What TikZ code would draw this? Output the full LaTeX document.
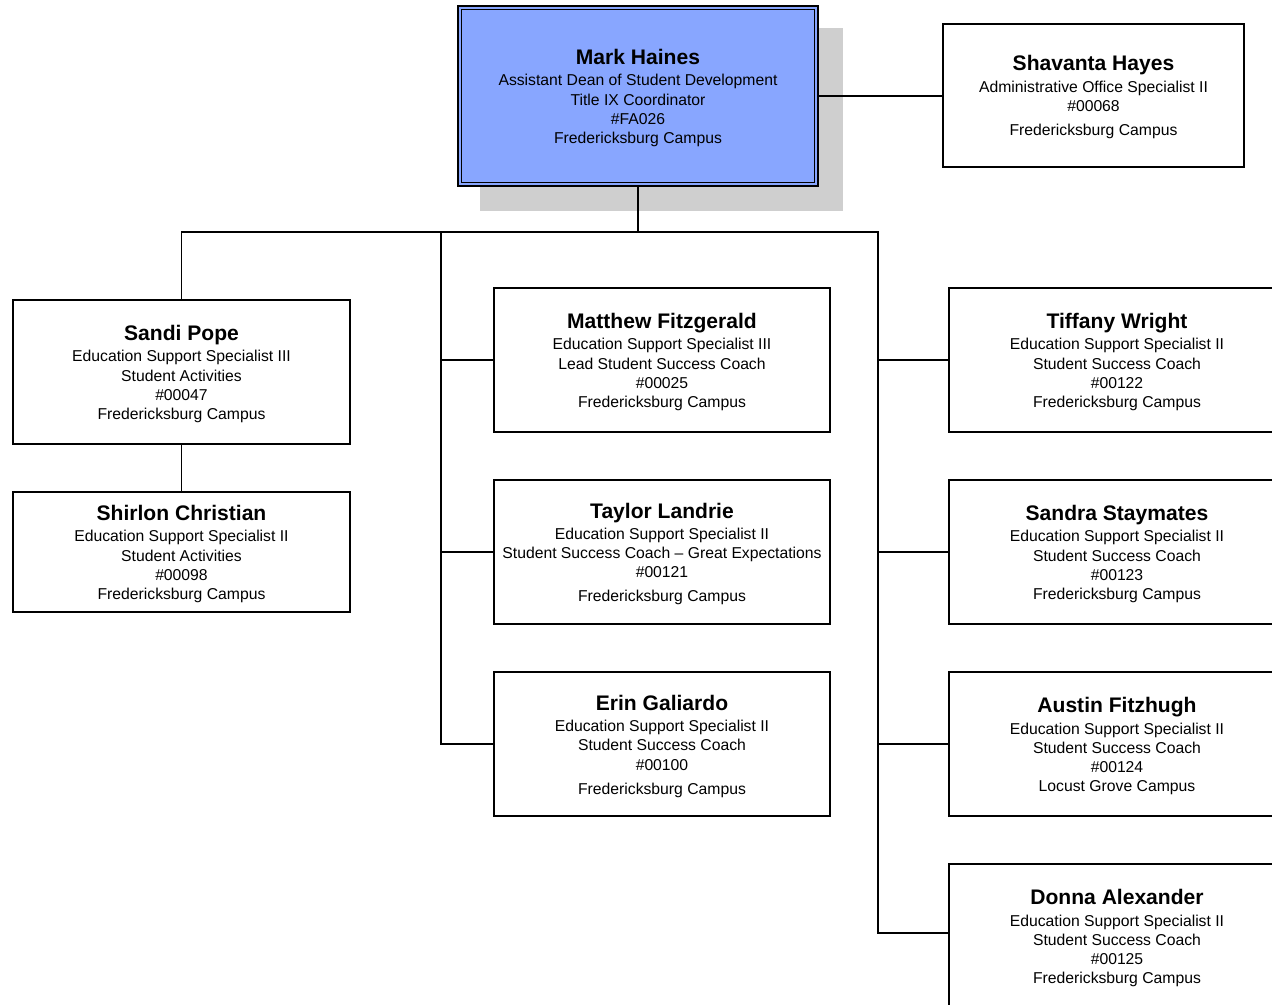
\documentclass[tikz,border=0pt]{standalone}
\usepackage{fontspec}
\setmainfont{Liberation Sans}
\definecolor{markblue}{RGB}{136,166,255}
\definecolor{shadowgray}{RGB}{207,207,207}
\newcommand\detfont{\fontsize{11.8}{14.4}\selectfont}
\newcommand\nm[1]{{\fontsize{15.8}{15.8}\selectfont\bfseries #1}\\[1.6pt]}
\tikzset{
  frame/.style={draw, line width=1.1pt, fill=white, rectangle, inner sep=0pt},
  txt/.style={align=center, inner sep=0pt, font=\detfont},
  link/.style={line width=1.1pt},
}
\begin{document}
\begin{tikzpicture}[x=0.75pt,y=-0.75pt]
\useasboundingbox (0,0) rectangle (1272,1005);
\clip (0,0) rectangle (1272,1005);
% shadow
\fill[shadowgray] (480,28) rectangle (843,211);
% boxes
\node[frame, fill=markblue, minimum width=270pt, minimum height=135pt] (mark) at (638,96) {};
\draw[line width=0.8pt] ([shift={(4,4)}]mark.north west) rectangle ([shift={(-4,-4)}]mark.south east);
\node[txt] (markT) at ([yshift=-1.6pt]mark.center)
  {\nm{Mark Haines}Assistant Dean of Student Development\\Title IX Coordinator\\\#FA026\\Fredericksburg Campus};
\node[frame, minimum width=225.75pt, minimum height=107.25pt] (shav) at (1093.5,95.5) {};
\node[txt] (shavT) at ([yshift=-1.2pt]shav.center)
  {\nm{Shavanta Hayes}Administrative Office Specialist II\\\#00068\\[3.6pt]Fredericksburg Campus};
\node[frame, minimum width=252.75pt, minimum height=108pt] (sandi) at (181.5,372) {};
\node[txt] (sandiT) at ([yshift=-1.6pt]sandi.center)
  {\nm{Sandi Pope}Education Support Specialist III\\Student Activities\\\#00047\\Fredericksburg Campus};
\node[frame, minimum width=252.75pt, minimum height=90pt] (shir) at (181.5,552) {};
\node[txt] (shirT) at ([yshift=-1.6pt]shir.center)
  {\nm{Shirlon Christian}Education Support Specialist II\\Student Activities\\\#00098\\Fredericksburg Campus};
\node[frame, minimum width=252pt, minimum height=108pt] (matt) at (662,360) {};
\node[txt] (mattT) at ([yshift=-1.6pt]matt.center)
  {\nm{Matthew Fitzgerald}Education Support Specialist III\\Lead Student Success Coach\\\#00025\\Fredericksburg Campus};
\node[frame, minimum width=252pt, minimum height=108pt] (tay) at (662,552) {};
\node[txt] (tayT) at ([yshift=-1.6pt]tay.center)
  {\nm{Taylor Landrie}Education Support Specialist II\\Student Success Coach -- Great Expectations\\\#00121\\[3.6pt]Fredericksburg Campus};
\node[frame, minimum width=252pt, minimum height=108pt] (erin) at (662,744) {};
\node[txt] (erinT) at ([yshift=-1.6pt]erin.center)
  {\nm{Erin Galiardo}Education Support Specialist II\\Student Success Coach\\\#00100\\[3.6pt]Fredericksburg Campus};
\node[frame, minimum width=252pt, minimum height=108pt] (tif) at (1117,360) {};
\node[txt] (tifT) at ([yshift=-1.6pt]tif.center)
  {\nm{Tiffany Wright}Education Support Specialist II\\Student Success Coach\\\#00122\\Fredericksburg Campus};
\node[frame, minimum width=252pt, minimum height=108pt] (sandra) at (1117,552) {};
\node[txt] (sandraT) at ([yshift=-1.6pt]sandra.center)
  {\nm{Sandra Staymates}Education Support Specialist II\\Student Success Coach\\\#00123\\Fredericksburg Campus};
\node[frame, minimum width=252pt, minimum height=108pt] (austin) at (1117,744) {};
\node[txt] (austinT) at ([yshift=-1.6pt]austin.center)
  {\nm{Austin Fitzhugh}Education Support Specialist II\\Student Success Coach\\\#00124\\Locust Grove Campus};
\node[frame, minimum width=252pt, minimum height=108pt] (donna) at (1117,936) {};
\node[txt] (donnaT) at ([yshift=-1.6pt]donna.center)
  {\nm{Donna Alexander}Education Support Specialist II\\Student Success Coach\\\#00125\\Fredericksburg Campus};
% connectors
\coordinate (busL) at (182,232);
\coordinate (trunkL) at (441,232);
\coordinate (busR) at (878,232);
\coordinate (donnaIn) at ([yshift=2.25pt]donna.west);
\draw[link] (mark.east) -- (mark.east -| shav.west);
\draw[link] (mark.south) -- (mark.south |- busL);
\draw[link] (sandi.north) -- (sandi.north |- busL) -- (busR) -- (busR |- donnaIn) -- (donnaIn);
\draw[link] (sandi.south) -- (shir.north);
\draw[link] (trunkL) |- (erin.west);
\draw[link] (trunkL |- matt.west) -- (matt.west);
\draw[link] (trunkL |- tay.west) -- (tay.west);
\draw[link] (busR |- tif.west) -- (tif.west);
\draw[link] (busR |- sandra.west) -- (sandra.west);
\draw[link] (busR |- austin.west) -- (austin.west);
\end{tikzpicture}
\end{document}
